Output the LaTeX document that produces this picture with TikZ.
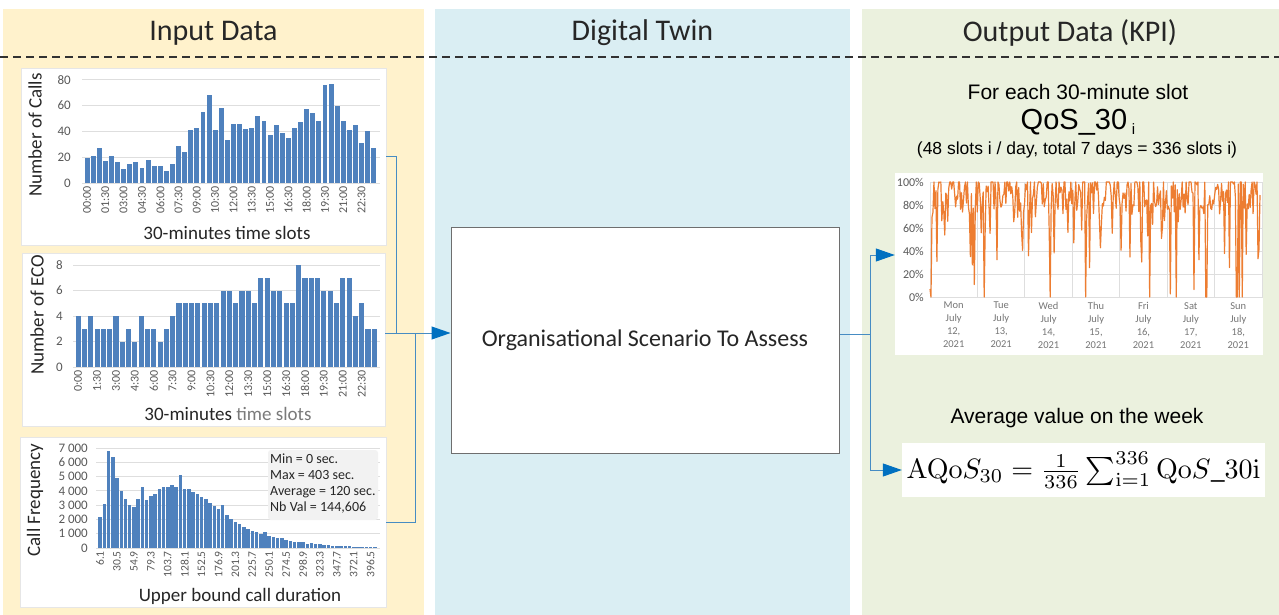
\documentclass[tikz,border=0pt]{standalone}
\usepackage[no-math]{fontspec}
\setmainfont{Carlito}
\newfontfamily\arialf{Liberation Sans}
\usetikzlibrary{arrows.meta}
\definecolor{panY}{RGB}{255,242,204}
\definecolor{panB}{RGB}{218,238,243}
\definecolor{panG}{RGB}{235,241,222}
\definecolor{barblue}{RGB}{79,129,189}
\definecolor{orng}{RGB}{237,125,49}
\definecolor{conn}{RGB}{70,140,195}
\definecolor{arr}{RGB}{0,112,192}
\definecolor{gridc}{RGB}{222,222,222}
\definecolor{tickc}{RGB}{89,89,89}
\definecolor{titc}{RGB}{38,38,38}
\definecolor{statbg}{RGB}{242,242,242}
\definecolor{boxline}{RGB}{110,110,110}
\tikzset{
  hdr/.style={font=\fontsize{30}{36}\selectfont, text=titc},
  sepline/.style={dash pattern=on 8pt off 5pt, line width=1.5pt, draw={rgb,255:red,50;green,50;blue,50}},
  chartbox/.style={draw={rgb,255:red,230;green,230;blue,230}, fill=white, inner sep=0pt},
  gridl/.style={draw=gridc, line width=0.8pt},
  ytick/.style={font=\fontsize{13}{15}\selectfont, text=tickc, inner sep=0pt},
  xtick/.style={font=\fontsize{12}{14}\selectfont, text=tickc, inner sep=0pt},
  axtitle/.style={font=\fontsize{19}{22}\selectfont, text=titc, inner sep=0pt},
  conn/.style={draw=conn, line width=1pt},
  arrowed/.style={conn, -{Triangle[length=19pt,width=13pt,color=arr]}},
  kpitxt/.style={font=\arialf\fontsize{21}{25}\selectfont, text=black},
}
\begin{document}
\begin{tikzpicture}[x=1pt,y=-1pt]
\useasboundingbox (0,0) rectangle (1279,615);
\fill[white] (0,0) rectangle (1279,615);
% panels
\fill[panY] (3,9) rectangle (424,615);
\fill[panB] (435,9) rectangle (850,615);
\fill[panG] (862,9) rectangle (1279,615);
% headers
\node[hdr] (h1) at (213.5,33) {Input Data};
\node[hdr] (h2) at (642.5,33) {Digital Twin};
\node[hdr] (h3) at (1070,33) {Output Data (KPI)};
\draw[sepline] (0,57) -- (1279,57);

% ---------- chart 1 ----------
\node[chartbox, minimum width=365pt, minimum height=177pt] (c1) at (203.5,156.5) {};
\foreach \v in {0,20,40,60,80} {
  \draw[gridl] (82,{183-\v*1.29}) -- (380,{183-\v*1.29});
  \node[ytick, anchor=east] at (71,{183-\v*1.29}) {\v};
}
\foreach \v [count=\i] in {19,21,27,17,21,16,11,15,16,12,18,13,13,9,15,29,24,41,43,55,68,41,58,33,46,46,42,43,52,48,37,45,39,35,43,47,57,54,48,76,77,60,48,41,45,31,40,27} {
  \fill[barblue] ({84+(\i-1)*6.1+0.6},183) rectangle ++(4.9,{-\v*1.29});
}
\foreach \t [count=\k] in {00:00,01:30,03:00,04:30,06:00,07:30,09:00,10:30,12:00,13:30,15:00,16:30,18:00,19:30,21:00,22:30} {
  \node[xtick, anchor=east, rotate=90] at ({84+(\k-1)*18.3+3.05},186) {\t};
}
\node[axtitle, rotate=90] at (35,135) {Number of Calls};
\node[axtitle] at (227,233) {30-minutes time slots};

% ---------- chart 2 ----------
\node[chartbox, minimum width=363pt, minimum height=173pt] (c2) at (203.5,339.5) {};
\foreach \v in {0,2,4,6,8} {
  \draw[gridl] (73,{367-\v*12.75}) -- (380,{367-\v*12.75});
  \node[ytick, anchor=east] at (63,{367-\v*12.75}) {\v};
}
\foreach \v [count=\i] in {4,3,4,3,3,3,4,2,3,2,4,3,3,2,3,4,5,5,5,5,5,5,5,6,6,5,6,6,5,7,7,6,6,5,5,8,7,7,7,6,6,5,7,7,4,5,3,3} {
  \fill[barblue] ({75+(\i-1)*6.3+0.6},367) rectangle ++(5.1,{-\v*12.75});
}
\foreach \t [count=\k] in {0:00,1:30,3:00,4:30,6:00,7:30,9:00,10:30,12:00,13:30,15:00,16:30,18:00,19:30,21:00,22:30} {
  \node[xtick, anchor=east, rotate=90] at ({75+(\k-1)*18.9+3.15},370) {\t};
}
\node[axtitle, rotate=90] at (37,315) {Number of ECO};
\node[axtitle] at (228,414) {30-minutes \textcolor{tickc!80}{time slots}};

% ---------- chart 3 ----------
\node[chartbox, minimum width=366pt, minimum height=170pt] (c3) at (203,522) {};
\foreach \v/\l in {0/0,10/1 000,20/2 000,30/3 000,40/4 000,50/5 000,60/6 000,70/7 000} {
  \draw[gridl] (96,{548-\v*1.4286}) -- (380,{548-\v*1.4286});
  \node[ytick, anchor=east] at (88,{548-\v*1.4286}) {\l};
}
\foreach \v [count=\i] in {21.5,31,68,63.5,49,40,34,30,28.5,34.5,42.5,33.5,36.5,38,41.5,42.5,43,44,43,51,41,41,39,38,35.5,34.5,31.5,29.5,27.5,30,23,20.5,18.5,17,15,13,12,11,10,11,8.5,7.5,7,7,5.5,5,4,4,4.5,3,3.5,3,2.5,2,2,1.5,1.5,1.5,1.5,1.5,1,1,0.8,0.8,0.6,0.5} {
  \fill[barblue] ({98+(\i-1)*4.227+0.4},548) rectangle ++(3.5,{-\v*1.4286});
}
\foreach \t [count=\k] in {6.1,30.5,54.9,79.3,103.7,128.1,152.5,176.9,201.3,225.7,250.1,274.5,298.9,323.3,347.7,372.1,396.5} {
  \node[xtick, font=\fontsize{11.5}{13}\selectfont, anchor=east, rotate=90] at ({98+(\k-1)*16.908+2.1},551) {\t};
}
\fill[statbg, rounded corners=3pt] (268,450) rectangle (378,520);
\node[anchor=north west, align=left, inner sep=0pt, text=titc, font=\fontsize{14}{16}\selectfont] (st) at (270,454) {Min = 0 sec.\\Max = 403 sec.\\Average = 120 sec.\\Nb Val = 144,606};
\node[axtitle, rotate=90] at (35,500) {Call Frequency};
\node[axtitle] at (240,596) {Upper bound call duration};

% ---------- digital twin box ----------
\node[draw=boxline, fill=white, line width=1pt, minimum width=388pt, minimum height=226pt, font=\fontsize{24}{28}\selectfont, text=titc] (box) at (645,340) {Organisational Scenario To Assess};

% ---------- output side ----------
\node[kpitxt] (t1) at (1078,92) {For each 30-minute slot};
\node[font=\arialf\fontsize{29}{32}\selectfont, text=black] (t2) at (1078,122) {QoS\_30\,{\fontsize{15}{16}\selectfont\raisebox{-5pt}{i}}};
\node[font=\arialf\fontsize{17.5}{20}\selectfont, text=black] (t3) at (1077,150) {(48 slots i / day, total 7 days = 336 slots i)};

\node[chartbox, draw=none, minimum width=368pt, minimum height=182pt] (kc) at (1079,264) {};
\foreach \v in {0,20,40,60,80,100} {
  \draw[gridl] (930,{297-\v*1.15}) -- (1262,{297-\v*1.15});
  \node[ytick, font=\fontsize{12}{14}\selectfont, anchor=east] at (924,{297-\v*1.15}) {\v\%};
}
\foreach \k in {0,...,7} {
  \draw[gridl] ({930+\k*47.43},182) -- ({930+\k*47.43},298);
}
\foreach \d/\n [count=\k] in {Mon/12,Tue/13,Wed/14,Thu/15,Fri/16,Sat/17,Sun/18} {
  \node[anchor=north, align=center, inner sep=0pt, text={rgb,255:red,118;green,118;blue,118}, font=\fontsize{10.5}{13}\selectfont] at ({930+(\k-0.5)*47.43},302) {\d\\July\\\n,\\2021};
}
\pgfmathsetseed{4711}
\draw[orng, line width=1.2pt, line join=round] plot[domain=0:335, samples=336]
  ({930+\x*0.985}, {297-1.15*max(0,min(100,114-42*rnd-(rnd<0.28)*55*rnd-(rnd<0.03)*100-(\x>235)*(rnd<0.08)*100))});

\node[kpitxt] (t4) at (1077,418) {Average value on the week};
\node[fill=white, inner sep=0pt, minimum width=363pt, minimum height=54pt] (fm) at (1083.5,470) {\resizebox{354pt}{!}{$\mathrm{AQo}S_{30} = \frac{1}{336}\sum_{\mathrm{i}=1}^{336}\mathrm{Qo}S\_30\mathrm{i}$}};

% ---------- connectors ----------
\coordinate (j) at (415,333);
\coordinate (j1) at (396,333);
\draw[conn] (c1.east) -| (j1);
\draw[conn] (c3.east) -| (j);
\draw[arrowed] (c2.east |- j) -- (box.west |- j);
\coordinate (r) at (870,334);
\coordinate (ka) at (0,255);
\draw[conn] (box.east |- r) -- (r);
\draw[arrowed] (r) |- (kc.west |- ka);
\draw[arrowed] (r) |- (fm.west);
\end{tikzpicture}
\end{document}
